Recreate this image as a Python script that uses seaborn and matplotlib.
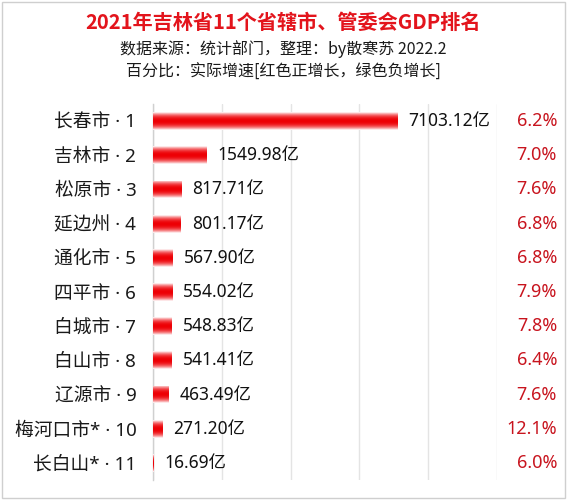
import numpy as np
import pandas as pd
import matplotlib
matplotlib.use("Agg")
import matplotlib.pyplot as plt
import seaborn as sns
from matplotlib.patches import Rectangle

cities = ["长春市", "吉林市", "松原市", "延边州", "通化市", "四平市", "白城市",
          "白山市", "辽源市", "梅河口市*", "长白山*"]
ranks = list(range(1, 12))
gdp = [7103.12, 1549.98, 817.71, 801.17, 567.90, 554.02, 548.83, 541.41,
       463.49, 271.20, 16.69]
growth = [6.2, 7.0, 7.6, 6.8, 6.8, 7.9, 7.8, 6.4, 7.6, 12.1, 6.0]

labels = [f"{c} · {r}" for c, r in zip(cities, ranks)]
df = pd.DataFrame({"label": labels, "gdp": gdp, "growth": growth})

sns.set_theme(style="white")
plt.rcParams["font.family"] = ["Noto Sans CJK SC", "DejaVu Sans"]
LATIN_FIRST = ["Noto Sans", "Noto Sans CJK SC", "DejaVu Sans"]

fig = plt.figure(figsize=(5.67, 5.0), dpi=100)
ax = fig.add_axes([153 / 567, 20 / 500, 344 / 567, 376 / 500])

sns.barplot(data=df, x="gdp", y="label", orient="h", color="red",
            width=0.52, ax=ax, zorder=3)

# vertical gradient: pale edges, saturated red center
n = 64
t = np.linspace(-1, 1, n)
inten = np.clip(1 - np.abs(t) ** 2.2, 0, 1)
grad = np.zeros((n, 2, 4))
white = np.array([1.0, 1.0, 1.0])
red = np.array([0.93, 0.0, 0.02])
for i, v in enumerate(inten):
    grad[i, :, :3] = white * (1 - v) + red * v
    grad[i, :, 3] = 1.0

for p in ax.patches:
    x0, y0 = p.get_x(), p.get_y()
    w, h = p.get_width(), p.get_height()
    p.set_facecolor("none")
    p.set_edgecolor("none")
    im = ax.imshow(grad, extent=[x0, x0 + w, y0 + h, y0], aspect="auto",
                   interpolation="bilinear", zorder=3)
    im.set_clip_path(p)

ax.set_xlim(0, 10000)
ax.set_ylim(10.5, -0.5)
ax.set_xticks([0, 2000, 4000, 6000, 8000, 10000])
ax.set_xticklabels([])
ax.grid(axis="x", color="#e4e4e4", linewidth=1, zorder=0)
ax.tick_params(axis="x", length=0)
ax.tick_params(axis="y", length=0, pad=12)
for tl in ax.get_yticklabels():
    tl.set_family(LATIN_FIRST)
    tl.set_fontsize(13.5)
    tl.set_color("#1a1a1a")
ax.set_xlabel("")
ax.set_ylabel("")
for s in ["top", "right", "bottom"]:
    ax.spines[s].set_visible(False)
ax.spines["left"].set_color("#d0d0d0")
ax.spines["left"].set_linewidth(1)

for i, (v, g) in enumerate(zip(gdp, growth)):
    ax.annotate(f"{v:.2f}亿", xy=(v, i), xytext=(8, 0),
                textcoords="offset points", va="center", ha="left",
                fontsize=12.5, color="#111111", zorder=4, family=LATIN_FIRST)
    col = "#c8141e" if g >= 0 else "#1a8a2a"
    fig.text(557 / 567, 1 - (121 + i * 34.2) / 500, f"{g:.1f}%",
             ha="right", va="center", fontsize=13, color=col,
             family=LATIN_FIRST)

fig.text(0.5, 1 - 22 / 500, "2021年吉林省11个省辖市、管委会GDP排名",
         ha="center", va="center", fontsize=14.5, fontweight="bold",
         color="#e3141c")
fig.text(0.5, 1 - 49 / 500, "数据来源：统计部门，整理：by散寒苏 2022.2",
         ha="center", va="center", fontsize=11.5, color="#1a1a1a")
fig.text(0.5, 1 - 72 / 500, "百分比：实际增速[红色正增长，绿色负增长]",
         ha="center", va="center", fontsize=11.5, color="#1a1a1a")

fig.patches.append(Rectangle((2 / 567, 2 / 500), 563 / 567, 496 / 500,
                             transform=fig.transFigure, fill=False,
                             edgecolor="#cfcfcf", linewidth=1))

fig.savefig("out.png", dpi=100)
